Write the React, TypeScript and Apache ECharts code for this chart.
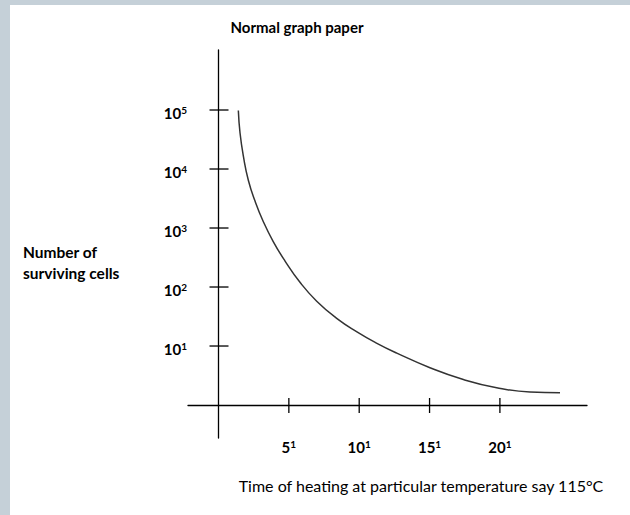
import React, { useEffect, useRef } from "react";
import * as echarts from "echarts";

// Survival curve (x: time units, y: log10 level)
const curveX = [1.41, 1.53, 1.78, 2.12, 2.59, 3.18, 3.89, 4.73, 5.79, 6.98, 8.4, 9.84, 11.26, 12.67, 15.03, 17.4, 19.77, 22.14, 24.27];
const curveY = [4.99, 4.61, 4.2, 3.81, 3.46, 3.11, 2.77, 2.44, 2.08, 1.76, 1.47, 1.24, 1.046, 0.88, 0.632, 0.432, 0.292, 0.22, 0.208];

const xTickValues = [5, 10, 15, 20];
const xTickBases = ["5", "10", "15", "20"];
const xTickExps = ["1", "1", "1", "1"];
const yTickValues = [1, 2, 3, 4, 5];
const yTickBases = ["10", "10", "10", "10", "10"];
const yTickExps = ["1", "2", "3", "4", "5"];

const titleText = "Normal graph paper";
const yNameLines = ["Number of", "surviving cells"];
const xNameText = "Time of heating at particular temperature say 115°C";

const FONT = "Lato, 'Open Sans', sans-serif";

const richStyles = {
  b: { fontFamily: FONT, fontWeight: "bold", fontSize: 15, color: "#000" },
  s: { fontFamily: FONT, fontWeight: "bold", fontSize: 10, color: "#000", verticalAlign: "top" },
};

export default function App() {
  const ref = useRef<HTMLDivElement>(null);
  useEffect(() => {
    if (!ref.current) return;
    const chart = echarts.init(ref.current, undefined, { renderer: "svg" });
    const tickStyle = { stroke: "#000", lineWidth: 1.3 };
    chart.setOption({
      animation: false,
      backgroundColor: "#fff",
      grid: { left: 188, right: 43, top: 50, bottom: 77 },
      xAxis: {
        type: "value",
        min: -2.168,
        max: 26.19,
        axisLine: { onZero: true, lineStyle: { color: "#000", width: 1.3 } },
        axisTick: { show: false },
        splitLine: { show: false },
        axisLabel: {
          customValues: xTickValues,
          formatter: (v: number) => {
            const i = xTickValues.indexOf(v);
            return i < 0 ? "" : `{b|${xTickBases[i]}}{s|${xTickExps[i]}}`;
          },
          margin: 1,
          rich: richStyles,
        },
      },
      yAxis: {
        type: "value",
        min: -0.559,
        max: 6.017,
        axisLine: { onZero: true, lineStyle: { color: "#000", width: 1.3 } },
        axisTick: { show: false },
        splitLine: { show: false },
        axisLabel: {
          customValues: yTickValues,
          formatter: (v: number) => {
            const i = yTickValues.indexOf(v);
            return i < 0 ? "" : `{b|${yTickBases[i]}}{s|${yTickExps[i]}}`;
          },
          margin: 1,
          padding: [5, 0, 0, 0],
          rich: richStyles,
        },
      },
      graphic: [
        { type: "rect", shape: { x: 0, y: 0, width: 630, height: 5 }, style: { fill: "#c5d0d8" }, silent: true },
        { type: "rect", shape: { x: 0, y: 0, width: 10, height: 515 }, style: { fill: "#c5d0d8" }, silent: true },
        {
          type: "text",
          x: 297,
          y: 27,
          style: {
            text: titleText,
            font: `bold 15px ${FONT}`,
            fill: "#000",
            align: "center",
            verticalAlign: "middle",
          },
        },
        {
          type: "text",
          x: 23,
          y: 241.5,
          style: {
            text: yNameLines.join("\n"),
            font: `bold 15.5px ${FONT}`,
            lineHeight: 21,
            fill: "#000",
            align: "left",
            verticalAlign: "top",
          },
        },
        {
          type: "text",
          x: 421,
          y: 485,
          style: {
            text: xNameText,
            font: `16px ${FONT}`,
            fill: "#000",
            align: "center",
            verticalAlign: "middle",
          },
        },
      ],
      series: [
        {
          type: "line",
          data: curveX.map((x, i) => [x, curveY[i]]),
          smooth: 0.5,
          showSymbol: false,
          lineStyle: { color: "#333", width: 1.5 },
          z: 3,
        },
        {
          type: "custom",
          data: xTickValues.map((v) => [v]),
          renderItem: (_p: any, api: any) => {
            const pt = api.coord([api.value(0), 0]);
            return {
              type: "line",
              shape: { x1: pt[0], y1: pt[1] - 7, x2: pt[0], y2: pt[1] + 8 },
              style: tickStyle,
            };
          },
          z: 4,
        },
        {
          type: "custom",
          data: yTickValues.map((v) => [0, v]),
          renderItem: (_p: any, api: any) => {
            const pt = api.coord([0, api.value(1)]);
            return {
              type: "line",
              shape: { x1: pt[0] - 9, y1: pt[1], x2: pt[0] + 10, y2: pt[1] },
              style: tickStyle,
            };
          },
          z: 4,
        },
      ],
    });
    return () => chart.dispose();
  }, []);
  return (
    <div
      ref={ref}
      style={{ position: "absolute", left: 0, top: 0, width: 630, height: 515 }}
    />
  );
}
